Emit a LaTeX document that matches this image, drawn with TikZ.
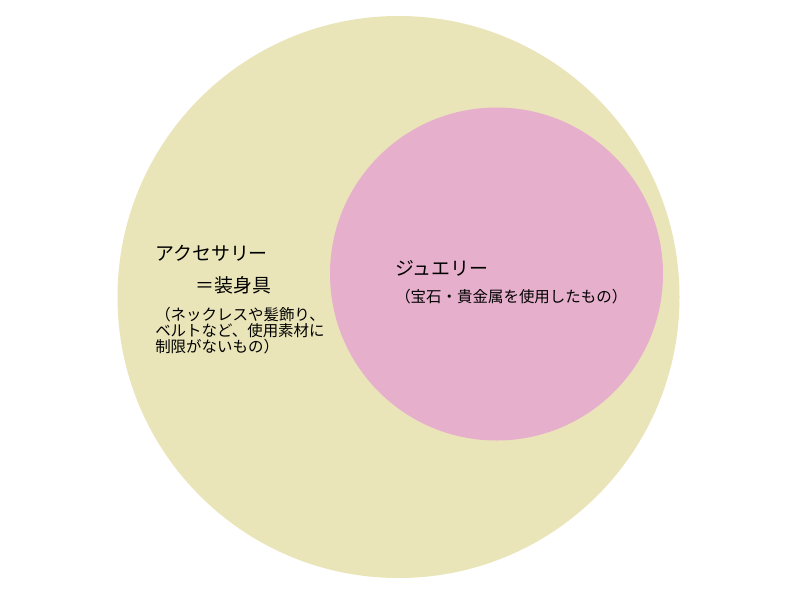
\documentclass[tikz,border=0pt]{standalone}
\usepackage{fontspec}
\newfontfamily\jpfont{Noto Sans CJK JP}
\definecolor{outerc}{HTML}{EAE5B8}
\definecolor{innerc}{HTML}{E6B0CD}
\begin{document}
\begin{tikzpicture}[x=0.75pt,y=-0.75pt,
  bigtxt/.style={anchor=west,inner sep=0pt,font=\jpfont\fontsize{14.2pt}{16pt}\selectfont},
  smalltxt/.style={anchor=west,inner sep=0pt,align=left,font=\jpfont\fontsize{11.6pt}{12pt}\selectfont}]
\useasboundingbox (0,0) rectangle (800,600);
\fill[white] (0,0) rectangle (800,600);
\node[circle,fill=outerc,minimum size=562*0.75pt,inner sep=0pt] (outer) at (398.5,297) {};
\node[circle,fill=innerc,minimum size=333*0.75pt,inner sep=0pt] (inner) at (496.5,274) {};
\node[bigtxt] (acc) at (155,253) {アクセサリー};
\node[bigtxt] (eq) at (195,285) {＝装身具};
\node[smalltxt] (accd) at (155,331) {（ネックレスや髪飾り、\\ベルトなど、使用素材に\\制限がないもの）};
\node[bigtxt] (jew) at (395,268) {ジュエリー};
\node[smalltxt] (jewd) at (395,297) {（宝石・貴金属を使用したもの）};
\end{tikzpicture}
\end{document}
